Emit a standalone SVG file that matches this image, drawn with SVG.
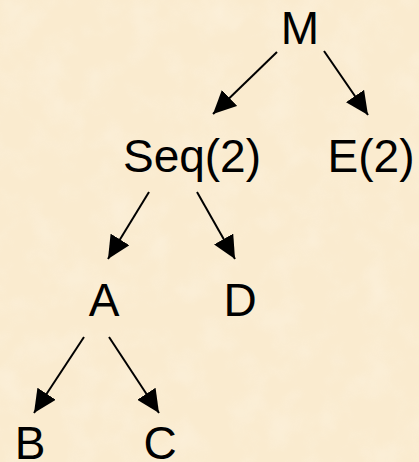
<svg xmlns="http://www.w3.org/2000/svg" width="419" height="462" viewBox="0 0 419 462">
<defs>
<marker id="ah" markerUnits="userSpaceOnUse" markerWidth="24" markerHeight="22" viewBox="0 0 24 22" refX="23" refY="11" orient="auto">
<path d="M0,0 L23,11 L0,22 Z" fill="#000"/>
</marker>
<filter id="tex" x="0" y="0" width="100%" height="100%">
<feTurbulence type="fractalNoise" baseFrequency="0.03" numOctaves="3" seed="4"/>
<feColorMatrix type="matrix" values="0 0 0 0 1  0 0 0 0 0.96  0 0 0 0 0.88  0 0 0 -1.2 0.7"/>
</filter>
<style>
.t{font-family:"Liberation Sans",Arial,sans-serif;font-size:46px;fill:#000;text-anchor:middle}
.c line{stroke:#000;stroke-width:2;marker-end:url(#ah)}
</style>
</defs>
<rect width="419" height="462" fill="#FAEBCF"/>
<rect width="419" height="462" filter="url(#tex)" opacity="0.45"/>
<g class="c" id="connectors">
<line x1="277" y1="52" x2="213" y2="114"/>
<line x1="324" y1="51" x2="368" y2="115"/>
<line x1="149" y1="192" x2="108" y2="259"/>
<line x1="197" y1="192" x2="235" y2="259"/>
<line x1="84" y1="337" x2="34" y2="413"/>
<line x1="109" y1="337" x2="159" y2="413"/>
</g>
<g id="M"><text class="t" x="300" y="44">M</text></g>
<g id="Seq"><text class="t" x="192" y="172">Seq(2)</text></g>
<g id="E"><text class="t" x="371" y="172">E(2)</text></g>
<g id="A"><text class="t" x="104" y="316">A</text></g>
<g id="D"><text class="t" x="240" y="316">D</text></g>
<g id="B"><text class="t" x="30" y="459">B</text></g>
<g id="C"><text class="t" x="160" y="459">C</text></g>
</svg>
